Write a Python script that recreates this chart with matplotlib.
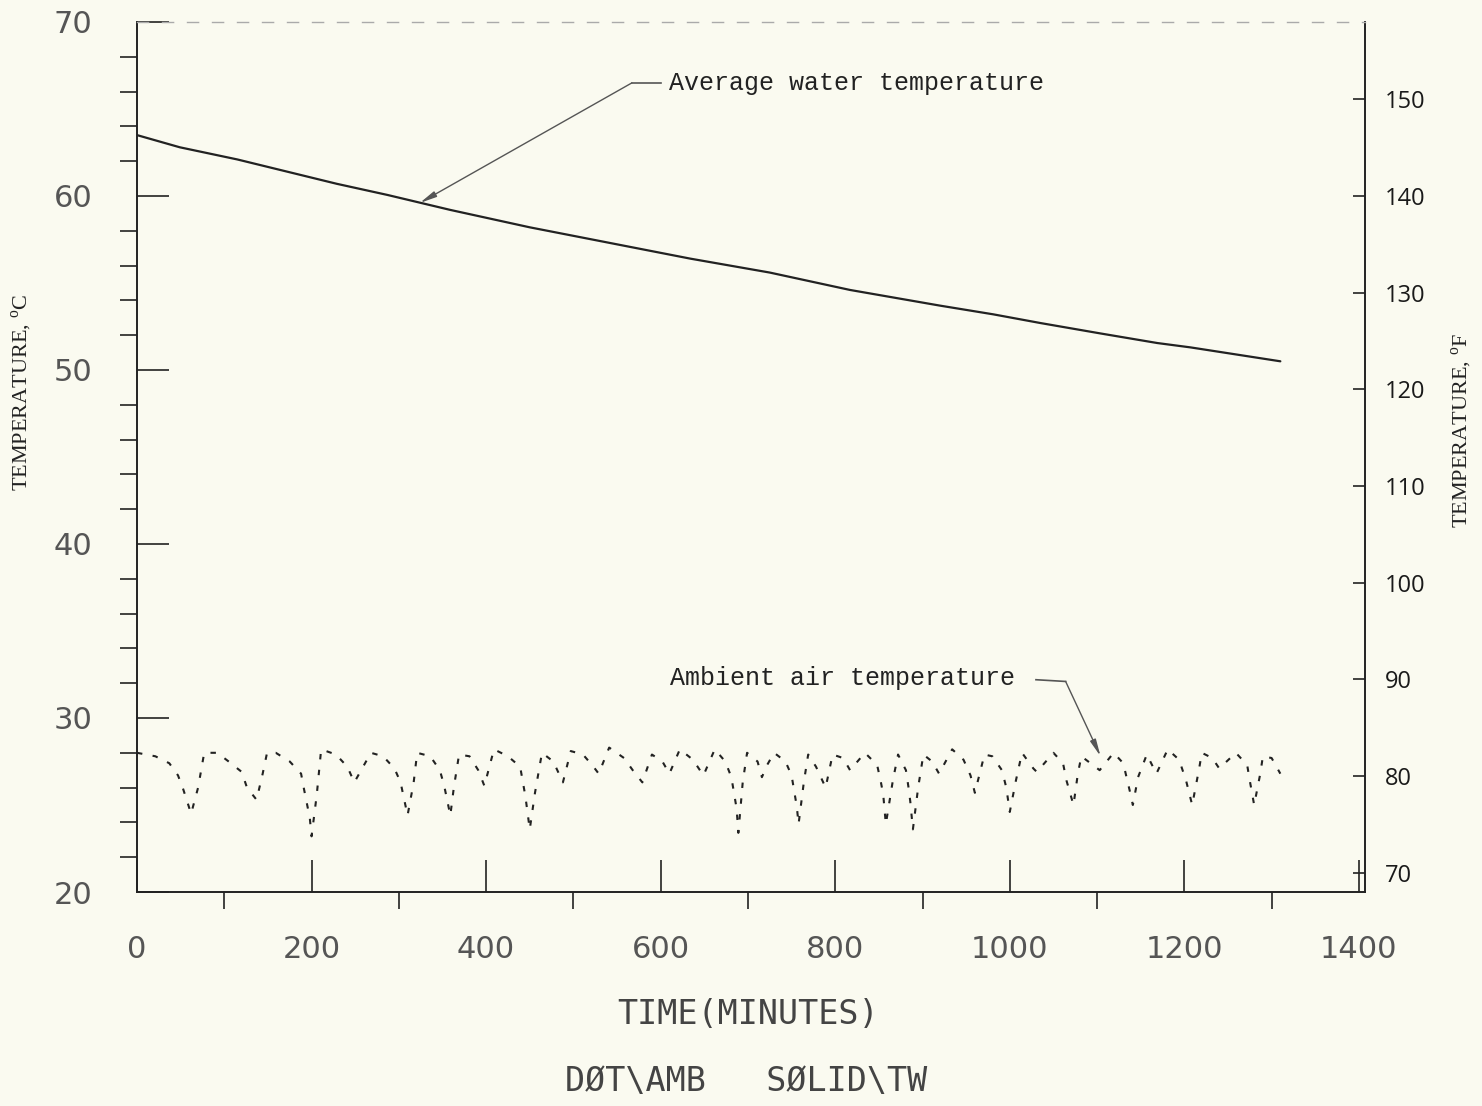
import matplotlib
matplotlib.use("Agg")
import matplotlib.pyplot as plt
from matplotlib.ticker import MultipleLocator

# ---------------- data ----------------
water_t = [0, 49, 115, 172, 229, 287, 359, 450, 542, 634, 725, 817, 920,
           981, 1035, 1104, 1169, 1207, 1310]
water_T = [63.5, 62.8, 62.1, 61.4, 60.7, 60.06, 59.2, 58.2, 57.3, 56.4, 55.6,
           54.6, 53.7, 53.2, 52.7, 52.1, 51.55, 51.3, 50.5]

amb_t = [0, 21, 37, 47, 53, 62, 70, 77, 92, 105, 120, 126, 137, 144, 149,
         159, 175, 188, 191, 198, 200, 206, 211, 228, 241, 249, 268,
         282, 295, 302, 310, 317, 321, 336, 347, 352, 359, 363, 369,
         381, 391, 398, 409, 425, 439, 445, 450, 456, 464, 477, 488, 497,
         511, 523, 529, 541, 558, 568, 579, 590, 602, 610, 622, 637, 649, 662,
         674, 681, 687, 689, 694, 699, 711, 716, 722, 730, 743, 750, 756, 758,
         764, 769, 778, 789, 797, 809, 817, 834, 848, 852, 855, 858, 866, 872,
         881, 884, 886, 889, 895, 901, 911, 919, 934, 947, 955, 960, 971,
         980, 991, 996, 1000, 1007, 1014, 1027, 1031, 1050, 1061, 1065, 1073,
         1078, 1082, 1103, 1119, 1130, 1138, 1141, 1147, 1157, 1168, 1181,
         1194, 1202, 1209, 1217, 1220, 1232, 1240, 1259, 1272, 1275, 1280,
         1287, 1290, 1300, 1310]
amb_T = [28.0, 27.8, 27.4, 26.7, 25.9, 24.5, 26.0, 28.0, 28.0, 27.5, 26.9, 26.0, 25.3, 26.8, 28.0,
         28.0, 27.5, 26.8, 26.0, 24.25, 23.2, 25.6, 28.2, 27.9, 27.2, 26.3, 28.0,
         27.8, 27.1, 26.3, 24.4, 26.3, 28.0, 27.8, 27.0, 26.1, 24.4, 26.0, 27.9,
         27.8, 27.0, 26.1, 28.2, 27.8, 27.2, 25.5, 23.6, 25.7, 28.0, 27.5, 26.3, 28.1,
         27.9, 27.2, 26.8, 28.3, 27.7, 27.0, 26.3, 27.9, 27.5, 26.8, 28.2, 27.6, 26.7, 28.2,
         27.5, 26.6, 24.8, 23.4, 26.3, 28.0, 27.5, 26.6, 27.3, 28.0, 27.5, 26.7, 24.9, 23.9,
         26.3, 27.9, 27.2, 26.0, 27.9, 27.7, 27.0, 28.0, 27.3, 26.4, 25.6, 23.9, 26.4, 27.9,
         27.0, 26.0, 25.2, 23.6, 26.0, 27.9, 27.5, 26.8, 28.2, 27.6, 26.7, 25.7, 27.9,
         27.8, 27.0, 26.0, 24.6, 26.4, 28.0, 27.1, 26.9, 28.0, 27.4, 26.4, 25.0,
         26.8, 27.8, 27.0, 28.0, 27.4, 25.7, 25.0, 26.6, 27.9, 26.8, 28.2,
         27.6, 26.4, 25.0, 27.1, 28.0, 27.7, 27.1, 28.0, 27.3, 26.4, 25.0,
         26.8, 27.8, 27.7, 26.8]

x_major = [0, 200, 400, 600, 800, 1000, 1200, 1400]
y_major_c = [20, 30, 40, 50, 60, 70]
y_major_f = [70, 80, 90, 100, 110, 120, 130, 140, 150]

water_label = "Average water temperature"
amb_label = "Ambient air temperature"

# ---------------- style ----------------
bg = "#fafaf0"
ink = "#222222"
plt.rcParams["mathtext.fontset"] = "custom"
plt.rcParams["mathtext.rm"] = "Liberation Serif"

W, H = 1482, 1106
fig = plt.figure(figsize=(W / 100, H / 100), dpi=100, facecolor=bg)
L, R, B, T = 137, 1365, 892, 22
ax = fig.add_axes([L / W, 1 - B / H, (R - L) / W, (B - T) / H])
ax.set_facecolor("none")
ax.set_xlim(0, 1407)
ax.set_ylim(20, 70)

ax.plot(water_t, water_T, color=ink, lw=1.6, solid_capstyle="round")
ax.plot(amb_t, amb_T, color=ink, lw=1.5, linestyle=(0, (2.6, 5.0)))

# ticks
ax.xaxis.set_major_locator(MultipleLocator(200))
ax.xaxis.set_minor_locator(MultipleLocator(100))
ax.yaxis.set_major_locator(MultipleLocator(10))
ax.yaxis.set_minor_locator(MultipleLocator(2))
ax.set_xticks(x_major)
ax.set_yticks(y_major_c)
ax.tick_params(which="major", direction="in", length=23, width=1.2, color=ink,
               labelsize=22, labelcolor="#555555", top=False, right=False)
ax.tick_params(which="minor", direction="out", length=12, width=1.2, color=ink,
               top=False, right=False)
ax.tick_params(axis="y", which="major", pad=32)
ax.tick_params(axis="x", which="major", pad=31)
for lab in ax.get_xticklabels() + ax.get_yticklabels():
    lab.set_family("DejaVu Sans")

for s in ["left", "bottom", "right"]:
    ax.spines[s].set_color(ink)
    ax.spines[s].set_linewidth(1.4)
ax.spines["top"].set_color("#aaaaaa")
ax.spines["top"].set_linewidth(1.0)
ax.spines["top"].set_linestyle((0, (8, 10)))

# secondary Fahrenheit axis
tw = ax.twinx()
tw.set_ylim(20 * 9 / 5 + 32, 70 * 9 / 5 + 32)
tw.set_yticks(y_major_f)
tw.tick_params(axis="y", direction="in", length=9, width=1.2, color=ink,
               labelsize=17, labelcolor="#1a1a1a", pad=14)
for lab in tw.get_yticklabels():
    lab.set_family("Open Sans")
for s in tw.spines.values():
    s.set_visible(False)

# axis labels
ax.set_ylabel("TEMPERATURE, $^{\\mathrm{o}}$C", family="Liberation Serif",
              fontsize=16, color=ink)
ax.yaxis.set_label_coords((34 - L) / (R - L), (B - 392) / (B - T))
tw.set_ylabel("TEMPERATURE, $^{\\mathrm{o}}$F", family="Liberation Serif",
              fontsize=16, color=ink, rotation=90)
tw.yaxis.set_label_coords((1450 - L) / (R - L), (B - 430) / (B - T))
ax.set_xlabel("TIME(MINUTES)", family="DejaVu Sans Mono", fontsize=24,
              color="#444444")
ax.xaxis.set_label_coords((748 - L) / (R - L), (B - 998) / (B - T))
fig.text(746 / W, 1 - 1082 / H, "DØT\\AMB   SØLID\\TW", family="DejaVu Sans Mono",
         fontsize=24, color="#444444", ha="center", va="center")

# annotations
lead = "#555555"
ax.annotate("", xy=(324, 59.6), xytext=(567, 66.5),
            arrowprops=dict(arrowstyle="-|>,head_length=1.0,head_width=0.18",
                            color=lead, lw=1.0, shrinkA=0, shrinkB=0))
ax.plot([567, 600], [66.5, 66.5], color=lead, lw=1.2)
ax.text(609, 66.5, water_label, family="Liberation Mono", fontsize=18,
        color=ink, va="center", ha="left")

ax.annotate("", xy=(1104, 27.8), xytext=(1064, 32.1),
            arrowprops=dict(arrowstyle="-|>,head_length=1.0,head_width=0.18",
                            color=lead, lw=1.0, shrinkA=0, shrinkB=0))
ax.plot([1030, 1064], [32.2, 32.1], color=lead, lw=1.2)
ax.text(611, 32.3, amb_label, family="Liberation Mono", fontsize=18,
        color=ink, va="center", ha="left")

fig.savefig("out.png", dpi=100, facecolor=bg)
